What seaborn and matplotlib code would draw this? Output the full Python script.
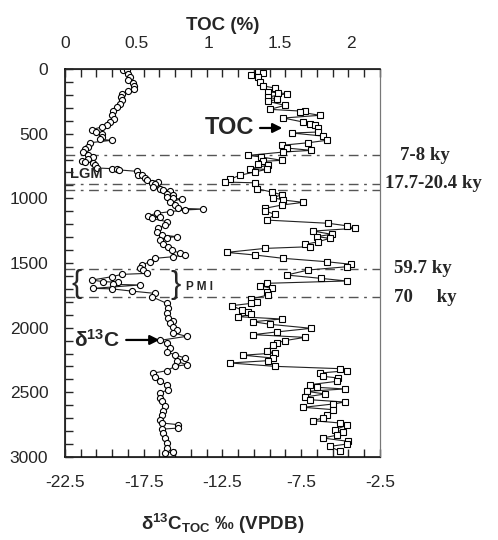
import matplotlib
matplotlib.use("Agg")
import matplotlib.pyplot as plt
import matplotlib.transforms as mtransforms
from matplotlib.ticker import FixedLocator
import seaborn as sns
import numpy as np

# delta13C of TOC (permil VPDB) vs depth
d13c_depth = [5, 10, 36, 62, 88, 106, 131, 157, 170, 191, 216, 243, 268, 294, 327, 358, 384, 410,
              435, 448, 469, 485, 500, 526, 544, 551, 570, 603, 621, 642, 668, 680, 693, 711, 719,
              724, 745, 765, 770, 772, 780, 791, 817, 822, 843, 861, 870, 878, 887, 912, 925, 938,
              945, 964, 977, 987, 1000, 1005, 1026, 1052, 1077, 1083, 1090, 1103, 1116, 1134, 1142,
              1155, 1180, 1206, 1232, 1258, 1284, 1296, 1304, 1322, 1356, 1374, 1399, 1425, 1438,
              1451, 1464, 1490, 1516, 1536, 1554, 1580, 1588, 1606, 1632, 1644, 1649, 1665, 1670,
              1696, 1700, 1717, 1735, 1760, 1812, 1850, 1889, 1928, 1948, 1966, 1992, 2015, 2041,
              2067, 2098, 2119, 2157, 2188, 2209, 2235, 2260, 2286, 2299, 2333, 2351, 2384, 2415,
              2441, 2480, 2505, 2544, 2570, 2608, 2647, 2678, 2711, 2737, 2750, 2776, 2785, 2815,
              2853, 2892, 2930, 2961, 2969]
d13c_value = [-18.80, -18.58, -18.48, -18.37, -18.48, -18.16, -18.12, -18.12, -18.5, -18.90, -18.96,
              -18.85, -19.0, -19.18, -19.43, -19.53, -19.40, -19.64, -19.85, -20.17, -20.80, -20.5,
              -20.17, -20.17, -20.28, -19.53, -20.91, -21.02, -21.23, -21.34, -21.02, -20.70, -21.02,
              -21.44, -21.23, -20.70, -20.60, -20.49, -19.53, -19.22, -19.10, -17.95, -17.85, -17.63,
              -17.42, -17.31, -16.58, -16.99, -16.79, -16.89, -16.47, -16.26, -15.83, -16.04, -15.62,
              -16.04, -15.62, -15.09, -15.83, -15.52, -15.30, -13.72, -14.88, -15.83, -16.68, -17.21,
              -16.47, -17.0, -16.04, -16.15, -16.58, -16.68, -16.36, -15.41, -16.04, -16.47, -16.26,
              -15.94, -15.73, -15.20, -14.88, -15.62, -16.79, -17.1, -17.63, -17.74, -17.53, -17.27,
              -18.90, -19.53, -20.80, -20.07, -19.12, -19.43, -17.74, -20.70, -19.53, -18.27, -16.79,
              -17.0, -16.04, -15.94, -16.04, -15.94, -15.62, -15.83, -15.62, -15.41, -15.62, -14.77,
              -16.47, -16.04, -15.83, -16.04, -15.52, -14.88, -15.41, -14.77, -15.52, -16.04, -16.89,
              -16.79, -16.47, -16.04, -15.94, -16.47, -16.47, -16.36, -16.15, -16.26, -16.36, -16.47,
              -16.36, -15.30, -15.30, -16.36, -16.26, -16.15, -16.04, -16.04, -15.62, -16.15]

# TOC (%) vs depth
toc_depth = [5, 12, 28, 49, 62, 100, 131, 147, 178, 183, 191, 216, 234, 250, 281, 312, 327, 332,
             358, 379, 410, 423, 435, 456, 487, 495, 518, 551, 570, 590, 611, 629, 642, 668, 680,
             706, 714, 732, 745, 770, 776, 796, 822, 853, 874, 880, 925, 951, 972, 995, 1013, 1031,
             1052, 1077, 1098, 1124, 1168, 1193, 1212, 1232, 1253, 1278, 1296, 1309, 1335, 1356,
             1374, 1387, 1418, 1438, 1464, 1490, 1510, 1529, 1554, 1593, 1619, 1639, 1657, 1675,
             1696, 1722, 1747, 1778, 1799, 1812, 1830, 1863, 1876, 1897, 1915, 1933, 1954, 1974,
             2005, 2033, 2054, 2075, 2100, 2119, 2137, 2178, 2196, 2213, 2235, 2255, 2273, 2299,
             2317, 2333, 2351, 2376, 2389, 2415, 2441, 2461, 2474, 2492, 2513, 2536, 2557, 2575,
             2590, 2616, 2634, 2678, 2698, 2719, 2737, 2755, 2789, 2807, 2832, 2853, 2879, 2900,
             2918, 2956]
toc_value = [1.37, 1.35, 1.385, 1.30, 1.35, 1.36, 1.385, 1.466, 1.42, 1.49, 1.55, 1.42, 1.48, 1.42,
             1.536, 1.432, 1.676, 1.64, 1.78, 1.525, 1.664, 1.71, 1.746, 1.77, 1.77, 1.583, 1.80,
             1.83, 1.70, 1.513, 1.548, 1.72, 1.525, 1.28, 1.37, 1.513, 1.385, 1.35, 1.42, 1.29,
             1.408, 1.327, 1.22, 1.152, 1.117, 1.327, 1.338, 1.443, 1.513, 1.455, 1.525, 1.664,
             1.513, 1.397, 1.40, 1.466, 1.408, 1.84, 1.967, 2.025, 1.734, 1.862, 1.757, 1.85, 1.77,
             1.676, 1.71, 1.397, 1.129, 1.327, 1.525, 1.827, 2.0, 1.967, 1.70, 1.548, 1.79, 1.967,
             1.408, 1.36, 1.443, 1.408, 1.42, 1.30, 1.338, 1.30, 1.164, 1.234, 1.28, 1.30, 1.21,
             1.513, 1.315, 1.432, 1.72, 1.478, 1.315, 1.676, 1.536, 1.478, 1.455, 1.408, 1.466,
             1.245, 1.455, 1.42, 1.152, 1.466, 1.92, 1.967, 1.78, 1.80, 1.909, 1.897, 1.711, 1.757,
             1.955, 1.688, 1.816, 1.676, 1.71, 1.955, 1.874, 1.664, 1.874, 1.827, 1.80, 1.734, 1.92,
             1.967, 1.885, 1.943, 1.897, 1.80, 1.978, 1.967, 1.85, 1.92]

# event horizons (depth) and labels
event_depth = [665, 888, 935, 1545, 1765]
event_labels = [("7-8 ky", 665, 1.063), ("17.7-20.4 ky", 888, 1.016),
                ("59.7 ky", 1546, 1.044), ("70     ky", 1765, 1.044)]

sns.set_style("ticks")
plt.rcParams["font.family"] = ["Liberation Sans", "DejaVu Sans"]
plt.rcParams["mathtext.default"] = "regular"
plt.rcParams["axes.unicode_minus"] = False

fig = plt.figure(figsize=(4.98, 5.4), dpi=100)
ax = fig.add_axes([0.1305, 0.1537, 0.6325, 0.7185])
ax2 = ax.twiny()

line_kw = dict(color="#222222", linewidth=0.8, markerfacecolor="white",
               markeredgecolor="black", markeredgewidth=0.8, markersize=4.4,
               sort=False, estimator=None, orient="y")
sns.lineplot(x=d13c_value, y=d13c_depth, marker="o", ax=ax, **line_kw)
sns.lineplot(x=toc_value, y=toc_depth, marker="s", ax=ax2, **line_kw)

ax.set_xlim(-22.5, -2.5)
ax.set_ylim(3000, 0)
ax2.set_xlim(0, 2.2)

ax.set_xticks([-22.5, -17.5, -12.5, -7.5, -2.5])
ax.xaxis.set_minor_locator(FixedLocator(np.arange(-22.5, -2.4, 1.0)))
ax.set_yticks(np.arange(0, 3001, 500))
ax.yaxis.set_minor_locator(FixedLocator(np.arange(0, 3001, 100)))
ax.tick_params(axis="both", which="both", direction="in", labelsize=12.5, width=1)
ax.tick_params(axis="x", which="both", top=True, length=6)
ax.tick_params(axis="y", which="both", length=6, right=False)
ax.tick_params(axis="x", pad=13)
ax.tick_params(axis="y", pad=12)

ax2.set_xticks([0, 0.5, 1, 1.5, 2])
ax2.set_xticklabels(["0", "0.5", "1", "1.5", "2"])
ax2.tick_params(axis="x", length=0, labelsize=12.5, pad=13)
ax2.set_xlabel("TOC (%)", fontsize=13.5, fontweight="bold", labelpad=4)
ax.set_xlabel("δ$^{13}$C$_{TOC}$ ‰ (VPDB)", fontsize=13.5, fontweight="bold", labelpad=16)
ax.set_ylabel("")

for s in ["left", "bottom", "top"]:
    ax.spines[s].set_color("black")
    ax.spines[s].set_linewidth(1.1)
ax.spines["right"].set_color("#777777")
ax2.spines["right"].set_color("#777777")

for d in event_depth:
    ax.axhline(d, color="#555555", linewidth=1.0, linestyle=(0, (7, 4, 2, 4)), zorder=1)

trans = mtransforms.blended_transform_factory(ax.transAxes, ax.transData)
for txt, d, xf in event_labels:
    ax.text(xf, d, txt, transform=trans, ha="left", va="center", fontsize=13.5,
            fontweight="bold", family=["Liberation Serif", "DejaVu Serif"], clip_on=False)

arrow = dict(arrowstyle="-|>", color="black", linewidth=1.6, mutation_scale=14, shrinkA=2, shrinkB=0)
ax.annotate("TOC", xy=(-8.7, 456), xytext=(-10.5, 456), ha="right", va="center",
            fontsize=17, fontweight="bold", arrowprops=arrow)
ax.annotate("δ$^{13}$C", xy=(-16.5, 2095), xytext=(-19.0, 2095), ha="right", va="center",
            fontsize=15, fontweight="bold", arrowprops=arrow)
ax.text(-22.2, 815, "LGM", ha="left", va="center", fontsize=10.5, fontweight="bold")
ax.text(-21.75, 1665, "{", ha="center", va="center", fontsize=22)
ax.text(-15.5, 1670, "}", ha="center", va="center", fontsize=22)
ax.text(-14.8, 1685, "P M I", ha="left", va="center", fontsize=8.5, fontweight="bold")

fig.savefig("out.png", dpi=100)
